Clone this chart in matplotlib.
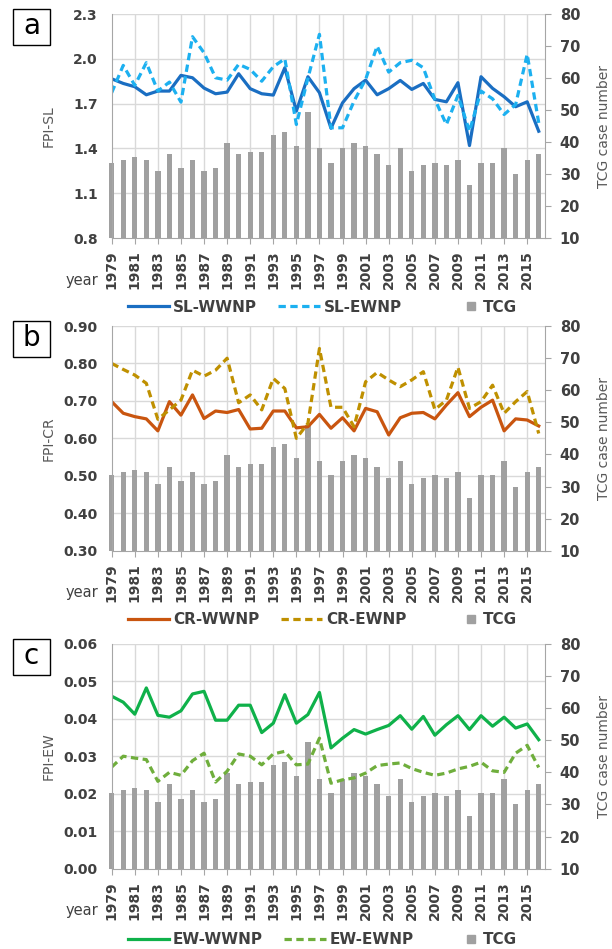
import matplotlib
matplotlib.use('Agg')
import matplotlib.pyplot as plt
from matplotlib.lines import Line2D
from matplotlib.patches import Rectangle
from matplotlib.transforms import blended_transform_factory

# yearly series 1979-2016
years = list(range(1979, 2017))

tcg = [33.5, 34.4, 35.2, 34.4, 30.9, 36.2, 31.8, 34.4, 30.9, 31.8,
       39.7, 36.2, 37.0, 37.0, 42.3, 43.1, 38.8, 49.3, 38.0, 33.5,
       38.0, 39.7, 38.8, 36.2, 32.7, 38.0, 30.9, 32.7, 33.5, 32.7,
       34.4, 26.5, 33.5, 33.5, 38.0, 30.0, 34.4, 36.2]

sl_wwnp = [1.866, 1.835, 1.813, 1.759, 1.784, 1.784, 1.889, 1.873, 1.804, 1.766,
           1.777, 1.900, 1.800, 1.766, 1.757, 1.940, 1.650, 1.880, 1.773, 1.535,
           1.705, 1.800, 1.857, 1.759, 1.800, 1.855, 1.795, 1.835, 1.728, 1.712,
           1.840, 1.419, 1.880, 1.802, 1.746, 1.679, 1.712, 1.515]
sl_ewnp = [1.773, 1.956, 1.822, 1.974, 1.784, 1.844, 1.710, 2.148, 2.040, 1.873,
           1.857, 1.963, 1.929, 1.850, 1.947, 2.000, 1.560, 1.870, 2.164, 1.538,
           1.538, 1.717, 1.862, 2.085, 1.911, 1.974, 1.990, 1.940, 1.728, 1.560,
           1.755, 1.515, 1.784, 1.732, 1.627, 1.694, 2.030, 1.571]

cr_wwnp = [0.698, 0.667, 0.658, 0.652, 0.620, 0.698, 0.662, 0.716, 0.653, 0.673,
           0.669, 0.677, 0.625, 0.627, 0.673, 0.673, 0.628, 0.631, 0.664, 0.627,
           0.655, 0.620, 0.680, 0.671, 0.609, 0.655, 0.667, 0.669, 0.652, 0.689,
           0.722, 0.658, 0.683, 0.702, 0.620, 0.652, 0.649, 0.633]
cr_ewnp = [0.800, 0.784, 0.769, 0.747, 0.651, 0.676, 0.702, 0.782, 0.766, 0.782,
           0.814, 0.695, 0.716, 0.676, 0.760, 0.733, 0.600, 0.640, 0.840, 0.683,
           0.683, 0.631, 0.751, 0.776, 0.756, 0.738, 0.756, 0.778, 0.677, 0.702,
           0.790, 0.680, 0.698, 0.742, 0.667, 0.698, 0.725, 0.613]

ew_wwnp = [0.0460, 0.0444, 0.0412, 0.0482, 0.0409, 0.0404, 0.0421, 0.0466, 0.0473, 0.0396,
           0.0396, 0.0436, 0.0436, 0.0363, 0.0388, 0.0464, 0.0388, 0.0411, 0.0470, 0.0322,
           0.0348, 0.0371, 0.0359, 0.0371, 0.0382, 0.0408, 0.0372, 0.0406, 0.0356, 0.0384,
           0.0408, 0.0371, 0.0408, 0.0380, 0.0404, 0.0375, 0.0386, 0.0344]
ew_ewnp = [0.0271, 0.0300, 0.0295, 0.0291, 0.0233, 0.0257, 0.0249, 0.0288, 0.0308, 0.0231,
           0.0260, 0.0306, 0.0300, 0.0277, 0.0306, 0.0313, 0.0277, 0.0279, 0.0348, 0.0228,
           0.0237, 0.0242, 0.0255, 0.0275, 0.0279, 0.0282, 0.0267, 0.0257, 0.0249, 0.0255,
           0.0266, 0.0273, 0.0284, 0.0261, 0.0257, 0.0308, 0.0329, 0.0270]

year_ticks = list(range(1979, 2016, 2))

plt.rcParams['font.family'] = ['DejaVu Sans']

W, H = 612, 949
txt_col = '#404040'
lab_col = '#595959'
bar_col = '#a0a0a0'
grid_col = '#d9d9d9'
spine_col = '#a6a6a6'

fig = plt.figure(figsize=(W / 100, H / 100), dpi=100)


def px(x, y):
    return x / W, 1 - y / H


def panel(tag, top, bottom, wwnp, ewnp, names, colors, ylabel, yticks, fmt, leg_y):
    x0, y0 = px(111.7, bottom)
    ax = fig.add_axes([x0, y0, (544.5 - 111.7) / W, (bottom - top) / H])
    axb = ax.twinx()
    ax.set_zorder(axb.get_zorder() + 1)
    ax.patch.set_visible(False)

    # grid behind the bars
    trans = blended_transform_factory(axb.transAxes, ax.transData)
    for v in yticks[1:]:
        axb.add_line(Line2D([0, 1], [v, v], transform=trans, color=grid_col, lw=1, zorder=0.5))
    for yr in year_ticks[1:]:
        axb.axvline(yr, color=grid_col, lw=1, zorder=0.5)

    bars = axb.bar(years, tcg, width=0.46, color=bar_col, zorder=2)
    # let the first bar hang over the left spine, but keep the baseline cut
    clip = Rectangle((-0.03, 0), 1.06, 1, transform=axb.transAxes, visible=False)
    axb.add_artist(clip)
    for b in bars:
        b.set_clip_path(clip)
    axb.set_ylim(10, 80)
    axb.set_yticks(range(10, 81, 10), labels=[str(v) for v in range(10, 81, 10)],
                   fontsize=10.5, fontweight='bold', color=txt_col)
    axb.tick_params(axis='y', direction='out', length=4, color=spine_col, pad=7)
    axb.set_ylabel('TCG case number', fontsize=10, color=lab_col)
    axb.yaxis.set_label_coords(1.121, 0.5)
    for s in ['left', 'top', 'bottom']:
        axb.spines[s].set_visible(False)
    axb.spines['right'].set_color(spine_col)

    l1, = ax.plot(years, wwnp, color=colors[0], lw=2.3, label=names[0])
    l2, = ax.plot(years, ewnp, color=colors[1], lw=2.3, dashes=(2.3, 1.4), label=names[1])
    ax.set_xlim(1979, 2016.5)
    ax.set_ylim(yticks[0], yticks[-1])
    ax.set_yticks(yticks, labels=[fmt % v for v in yticks],
                  fontsize=10, fontweight='bold', color=txt_col)
    ax.tick_params(axis='y', length=0, pad=10)
    ax.set_xticks(year_ticks, labels=[str(y) for y in year_ticks], rotation=90,
                  fontsize=10, fontweight='bold', color=txt_col)
    ax.tick_params(axis='x', direction='out', length=4, color=spine_col, pad=5)
    ax.set_ylabel(ylabel, fontsize=10, color=lab_col)
    ax.yaxis.set_label_coords(-0.129, 0.5)
    for s in ['top', 'right']:
        ax.spines[s].set_visible(False)
    for s in ['left', 'bottom']:
        ax.spines[s].set_color(spine_col)

    fig.text(*px(66, bottom + 42), 'year', fontsize=10.5, color=txt_col, va='center')

    # panel tag in a box
    fig.add_artist(Rectangle(px(13, top + 31), 37 / W, 36 / H, transform=fig.transFigure,
                             fc='white', ec='black', lw=1))
    fig.text(*px(31.5, top + 12), tag, fontsize=20, ha='center', va='center')

    lx, ly = px(128, leg_y)
    fig.legend(handles=[l1, l2], loc='center left', bbox_to_anchor=(lx, ly), ncol=2,
               frameon=False, handlelength=2.7, handletextpad=0.25, columnspacing=1.4,
               borderpad=0, borderaxespad=0,
               prop={'weight': 'bold', 'size': 11}, labelcolor=txt_col)
    sq = Line2D([], [], marker='s', ls='none', color=bar_col, markersize=6, label='TCG')
    tx, ty = px(466, leg_y)
    fig.legend(handles=[sq], loc='center left', bbox_to_anchor=(tx, ty),
               frameon=False, handlelength=0.7, handletextpad=0.4,
               borderpad=0, borderaxespad=0,
               prop={'weight': 'bold', 'size': 11}, labelcolor=txt_col)


panel('a', 14, 238, sl_wwnp, sl_ewnp, ['SL-WWNP', 'SL-EWNP'], ['#1a6ec2', '#1cb0f0'],
      'FPI-SL', [0.8, 1.1, 1.4, 1.7, 2.0, 2.3], '%.1f', 307)
panel('b', 326, 550.7, cr_wwnp, cr_ewnp, ['CR-WWNP', 'CR-EWNP'], ['#c9550f', '#bf9000'],
      'FPI-CR', [0.3, 0.4, 0.5, 0.6, 0.7, 0.8, 0.9], '%.2f', 620)
panel('c', 643.7, 868.7, ew_wwnp, ew_ewnp, ['EW-WWNP', 'EW-EWNP'], ['#0fb14a', '#6fae3c'],
      'FPI-EW', [0.0, 0.01, 0.02, 0.03, 0.04, 0.05, 0.06], '%.2f', 940)

plt.savefig('out.png', dpi=100)
